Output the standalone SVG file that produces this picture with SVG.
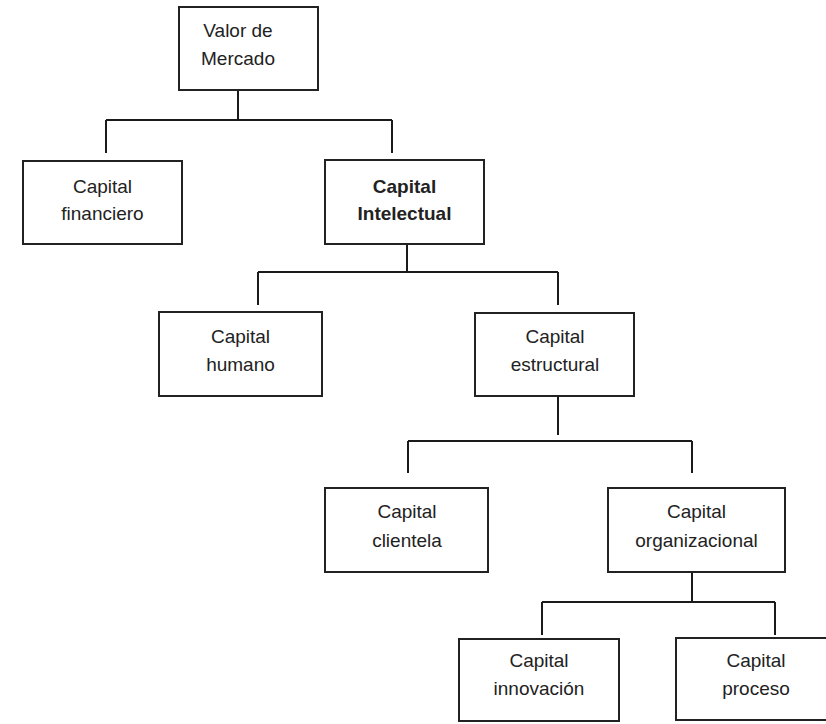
<svg xmlns="http://www.w3.org/2000/svg" width="826" height="724" viewBox="0 0 826 724">
<style>
.box{fill:#fff;stroke:#222;stroke-width:2}
.t{font-family:"Liberation Sans",Arial,sans-serif;font-size:19px;fill:#222;text-anchor:middle}
.b{font-weight:bold}
.c{fill:none;stroke:#1a1a1a;stroke-width:2}
</style>
<rect width="826" height="724" fill="#fff"/>
<g id="connectors">
<path class="c" d="M238 90V120M106 120H392M106 120V153M392 120V153"/>
<path class="c" d="M407 244V272M258 272H558M258 272V305M558 272V305"/>
<path class="c" d="M558 396V435M408 441H692M408 441V473M692 441V473"/>
<path class="c" d="M692 572V602M542 602H775M542 602V635M775 602V635"/>
</g>
<g id="valor">
<rect class="box" x="179" y="7" width="139" height="83"/>
<text class="t" x="238" y="37">Valor de</text>
<text class="t" x="238" y="65">Mercado</text>
</g>
<g id="financiero">
<rect class="box" x="23" y="161" width="159" height="83"/>
<text class="t" x="102.5" y="193">Capital</text>
<text class="t" x="102.5" y="220">financiero</text>
</g>
<g id="intelectual">
<rect class="box" x="325" y="160" width="159" height="84"/>
<text class="t b" x="404.5" y="193">Capital</text>
<text class="t b" x="404.5" y="220">Intelectual</text>
</g>
<g id="humano">
<rect class="box" x="159" y="312" width="163" height="84"/>
<text class="t" x="240.5" y="343">Capital</text>
<text class="t" x="240.5" y="371">humano</text>
</g>
<g id="estructural">
<rect class="box" x="475" y="313" width="159" height="83"/>
<text class="t" x="555" y="343">Capital</text>
<text class="t" x="555" y="371">estructural</text>
</g>
<g id="clientela">
<rect class="box" x="325" y="488" width="163" height="84"/>
<text class="t" x="407" y="518">Capital</text>
<text class="t" x="407" y="547">clientela</text>
</g>
<g id="organizacional">
<rect class="box" x="608" y="488" width="177" height="84"/>
<text class="t" x="696.5" y="518">Capital</text>
<text class="t" x="696.5" y="547">organizacional</text>
</g>
<g id="innovacion">
<rect class="box" x="459" y="639" width="160" height="82"/>
<text class="t" x="539" y="667">Capital</text>
<text class="t" x="539" y="695">innovación</text>
</g>
<g id="proceso">
<rect class="box" x="676" y="638" width="165" height="82"/>
<text class="t" x="756" y="667">Capital</text>
<text class="t" x="756" y="695">proceso</text>
</g>
</svg>
